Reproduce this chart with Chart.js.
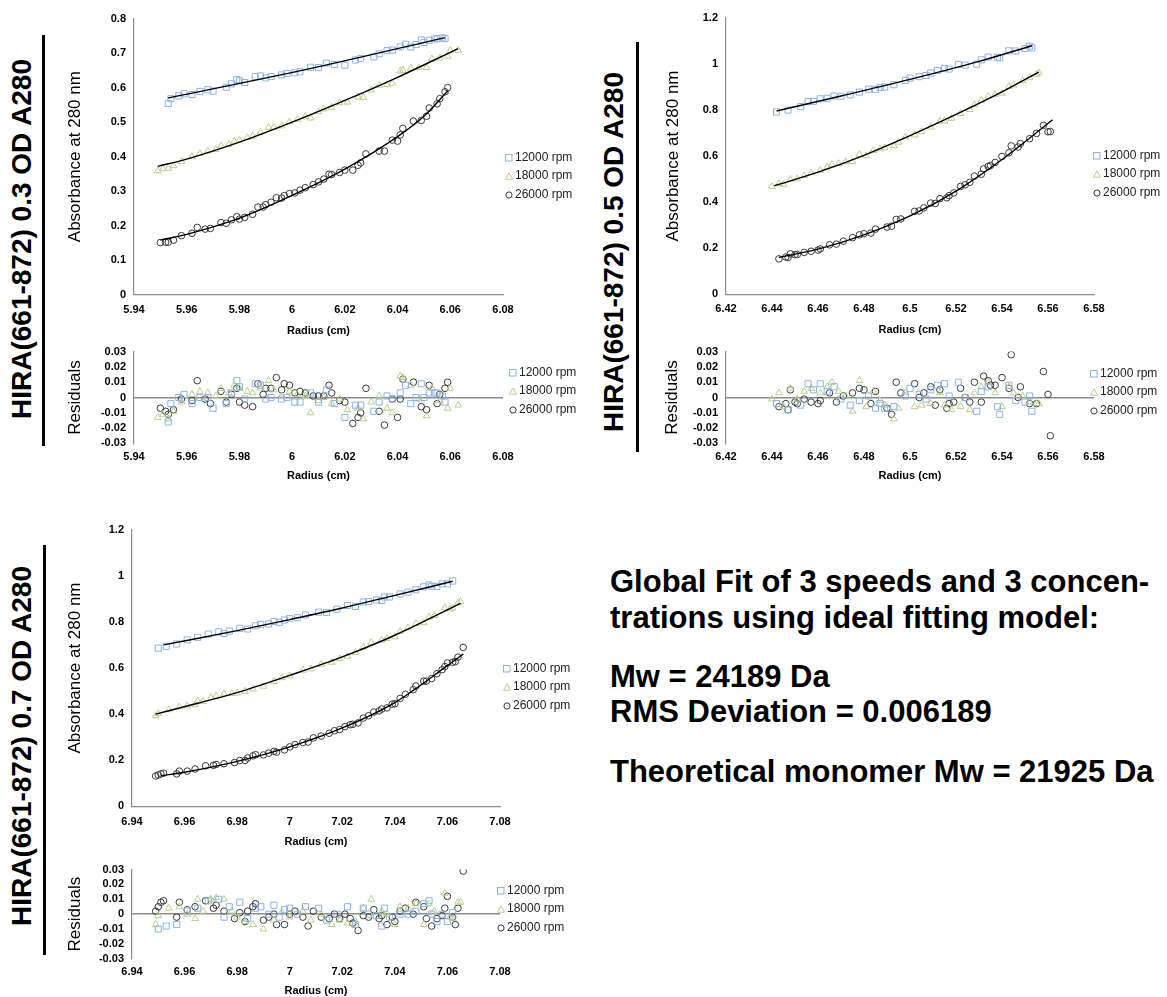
<!DOCTYPE html>
<html>
<head>
<meta charset="utf-8">
<title>HIRA(661-872) sedimentation equilibrium</title>
<script src="https://cdn.jsdelivr.net/npm/chart.js@4.4.1/dist/chart.umd.min.js"></script>
<style>
  body { margin: 0; width: 1167px; height: 997px; position: relative; overflow: hidden; background: #fff;
         font-family: "Liberation Sans", Arial, sans-serif; color: #000; }
  .plot { position: absolute; }
  .side { position: absolute; font-weight: bold; font-size: 28px; white-space: nowrap;
          transform: translate(-50%, -50%) rotate(-90deg); }
  .bar { position: absolute; width: 3px; background: #000; }
  .legend { position: absolute; font-size: 12px; line-height: 18.4px; color: #222; white-space: nowrap; }
  .legend svg { vertical-align: -1px; margin-right: 2px; }
  .note { position: absolute; left: 610px; font-weight: bold; font-size: 31px; line-height: 36px; white-space: nowrap; }
</style>
</head>
<body>

<div class="side" style="left:22px;top:239px">HIRA(661-872) 0.3 OD A280</div>
<div class="bar" style="left:42px;top:35px;height:411px"></div>
<div class="side" style="left:614px;top:252px">HIRA(661-872) 0.5 OD A280</div>
<div class="bar" style="left:636px;top:42px;height:410px"></div>
<div class="side" style="left:22px;top:746px">HIRA(661-872) 0.7 OD A280</div>
<div class="bar" style="left:43px;top:545px;height:410px"></div>

<div class="plot" id="boxA"><canvas id="chartA"></canvas></div>
<div class="plot" id="boxAr"><canvas id="chartAr"></canvas></div>
<div class="plot" id="boxB"><canvas id="chartB"></canvas></div>
<div class="plot" id="boxBr"><canvas id="chartBr"></canvas></div>
<div class="plot" id="boxC"><canvas id="chartC"></canvas></div>
<div class="plot" id="boxCr"><canvas id="chartCr"></canvas></div>

<div class="note" style="top:564px">Global Fit of 3 speeds and 3 concen-</div>
<div class="note" style="top:600px">trations using ideal fitting model:</div>
<div class="note" style="top:659px">Mw = 24189 Da</div>
<div class="note" style="top:694px">RMS Deviation = 0.006189</div>
<div class="note" style="top:754px">Theoretical monomer Mw = 21925 Da</div>

<script>
const speeds = ["12000 rpm", "18000 rpm", "26000 rpm"];

// 0.3 OD: radius (cm), absorbance, residual
const radA12 = [5.953,5.954,5.957,5.959,5.962,5.965,5.968,5.970,5.975,5.977,5.979,5.980,5.982,5.986,5.988,5.990,5.992,5.996,5.998,6.001,6.003,6.007,6.010,6.013,6.016,6.020,6.024,6.026,6.031,6.033,6.036,6.038,6.041,6.043,6.045,6.047,6.049,6.050,6.052,6.054,6.055,6.057,6.058];
const absA12 = [0.554,0.568,0.576,0.582,0.580,0.589,0.594,0.590,0.601,0.611,0.623,0.620,0.615,0.632,0.634,0.628,0.632,0.637,0.641,0.643,0.646,0.659,0.658,0.671,0.667,0.665,0.680,0.684,0.689,0.698,0.707,0.709,0.718,0.726,0.718,0.725,0.738,0.731,0.737,0.741,0.742,0.744,0.742];
const resA12 = [-0.016,-0.004,0.000,0.002,-0.004,0.000,0.000,-0.007,-0.004,0.003,0.011,0.007,-0.001,0.009,0.008,-0.001,0.000,-0.001,0.000,-0.003,-0.003,0.003,-0.003,0.005,-0.004,-0.013,-0.005,-0.005,-0.009,-0.003,0.001,-0.001,0.003,0.008,-0.004,0.000,0.009,0.000,0.003,0.003,0.003,0.001,-0.003];
const radA18 = [5.949,5.951,5.953,5.955,5.958,5.962,5.965,5.968,5.971,5.973,5.976,5.978,5.980,5.983,5.985,5.988,5.991,5.993,5.996,5.999,6.002,6.005,6.007,6.010,6.012,6.015,6.018,6.021,6.025,6.027,6.030,6.033,6.036,6.038,6.041,6.042,6.045,6.048,6.051,6.053,6.056,6.059,6.060,6.063];
const absA18 = [0.359,0.365,0.366,0.374,0.386,0.400,0.409,0.416,0.421,0.431,0.435,0.445,0.448,0.455,0.459,0.471,0.485,0.485,0.489,0.501,0.508,0.517,0.512,0.530,0.538,0.543,0.556,0.558,0.573,0.572,0.593,0.607,0.609,0.613,0.648,0.650,0.656,0.658,0.658,0.683,0.686,0.691,0.708,0.708];
const resA18 = [-0.013,-0.011,-0.014,-0.009,-0.003,0.002,0.004,0.003,0.001,0.006,0.003,0.008,0.006,0.004,0.003,0.006,0.011,0.005,0.001,0.004,0.002,0.001,-0.010,-0.002,0.000,-0.004,-0.001,-0.008,-0.007,-0.014,-0.003,0.001,-0.007,-0.010,0.014,0.013,0.008,-0.001,-0.012,0.006,-0.002,-0.007,0.006,-0.005];
const radA26 = [5.950,5.952,5.953,5.955,5.958,5.962,5.964,5.967,5.969,5.973,5.975,5.977,5.979,5.980,5.982,5.985,5.987,5.989,5.990,5.992,5.994,5.996,5.997,5.999,6.001,6.003,6.005,6.008,6.010,6.012,6.014,6.015,6.018,6.020,6.023,6.025,6.026,6.028,6.033,6.035,6.038,6.040,6.041,6.042,6.046,6.049,6.051,6.052,6.055,6.056,6.058,6.059];
const absA26 = [0.151,0.152,0.152,0.158,0.171,0.178,0.195,0.190,0.192,0.209,0.207,0.217,0.226,0.219,0.224,0.233,0.254,0.254,0.261,0.268,0.281,0.280,0.287,0.293,0.295,0.303,0.310,0.319,0.327,0.335,0.349,0.348,0.354,0.361,0.361,0.375,0.382,0.408,0.416,0.416,0.448,0.445,0.463,0.482,0.503,0.505,0.517,0.541,0.553,0.568,0.588,0.600];
const resA26 = [-0.007,-0.009,-0.011,-0.008,-0.001,-0.002,0.011,-0.001,-0.004,0.004,-0.003,0.002,0.006,-0.003,-0.005,-0.006,0.009,0.002,0.006,0.006,0.013,0.005,0.009,0.008,0.003,0.004,0.003,0.001,0.001,0.001,0.008,0.003,-0.002,-0.003,-0.017,-0.013,-0.010,0.006,-0.009,-0.018,-0.001,-0.013,-0.001,0.012,0.010,-0.006,-0.008,0.008,-0.004,0.002,0.006,0.010];
// global fit curves, 0.3 OD
const fitA12r = [5.953, 6.005, 6.058];
const fitA12a = [0.570, 0.652, 0.745];
const fitA18r = [5.949, 5.96, 5.98, 6.00, 6.02, 6.04, 6.063];
const fitA18a = [0.372, 0.393, 0.442, 0.500, 0.563, 0.630, 0.713];
const fitA26r = [5.950, 5.96, 5.98, 6.00, 6.02, 6.04, 6.05, 6.059];
const fitA26a = [0.158, 0.175, 0.222, 0.288, 0.364, 0.458, 0.517, 0.590];

// 0.5 OD
const radB12 = [6.442,6.447,6.4525,6.4557,6.458,6.461,6.464,6.467,6.470,6.474,6.478,6.482,6.485,6.487,6.489,6.493,6.498,6.500,6.504,6.507,6.509,6.512,6.515,6.517,6.521,6.524,6.529,6.531,6.534,6.538,6.539,6.543,6.546,6.550,6.552,6.553];
const absB12 = [0.791,0.799,0.814,0.836,0.837,0.848,0.850,0.860,0.859,0.865,0.877,0.890,0.889,0.897,0.899,0.909,0.928,0.938,0.944,0.949,0.960,0.971,0.980,0.977,0.997,0.994,0.998,1.017,1.029,1.028,1.026,1.056,1.055,1.066,1.076,1.069];
const resB12 = [-0.004,-0.008,-0.005,0.009,0.005,0.009,0.004,0.007,-0.001,-0.005,-0.002,0.001,-0.007,-0.004,-0.007,-0.006,0.001,0.006,0.002,-0.001,0.005,0.008,0.009,0.001,0.010,0.000,-0.009,0.004,0.007,-0.006,-0.011,0.008,-0.002,-0.003,0.001,-0.009];
const radB18 = [6.440,6.443,6.445,6.448,6.451,6.454,6.457,6.461,6.464,6.466,6.469,6.472,6.475,6.478,6.481,6.484,6.487,6.489,6.493,6.495,6.498,6.502,6.505,6.509,6.513,6.515,6.518,6.522,6.526,6.528,6.531,6.534,6.537,6.540,6.543,6.545,6.549,6.552,6.555,6.556];
const absB18 = [0.467,0.480,0.477,0.499,0.501,0.515,0.527,0.537,0.552,0.562,0.567,0.575,0.576,0.607,0.601,0.624,0.631,0.636,0.644,0.660,0.682,0.691,0.706,0.725,0.751,0.752,0.763,0.784,0.801,0.822,0.841,0.859,0.866,0.872,0.901,0.908,0.927,0.939,0.954,0.960];
const resB18 = [-0.001,0.003,-0.006,0.006,-0.001,0.004,0.006,0.003,0.007,0.010,0.004,0.001,-0.009,0.011,-0.006,0.004,-0.002,-0.005,-0.014,-0.007,0.003,-0.006,-0.005,-0.004,0.003,-0.005,-0.008,-0.006,-0.008,0.003,0.007,0.010,0.003,-0.006,0.007,0.003,0.001,-0.003,-0.004,-0.004];
const radB26 = [6.443,6.446,6.447,6.448,6.450,6.451,6.454,6.457,6.460,6.461,6.465,6.468,6.471,6.475,6.478,6.480,6.483,6.485,6.490,6.492,6.494,6.496,6.502,6.504,6.506,6.509,6.511,6.513,6.516,6.517,6.519,6.522,6.524,6.526,6.528,6.531,6.532,6.534,6.535,6.537,6.540,6.543,6.544,6.547,6.548,6.552,6.555,6.558,6.560,6.561];
const absB26 = [0.154,0.162,0.160,0.176,0.172,0.173,0.182,0.187,0.192,0.197,0.215,0.218,0.231,0.246,0.258,0.263,0.266,0.283,0.292,0.296,0.325,0.327,0.360,0.362,0.375,0.396,0.394,0.415,0.419,0.428,0.440,0.468,0.475,0.486,0.513,0.521,0.544,0.555,0.559,0.572,0.598,0.614,0.644,0.639,0.654,0.675,0.698,0.733,0.705,0.706];
const resB26 = [-0.006,-0.004,-0.008,0.005,-0.003,-0.004,-0.001,-0.003,-0.004,-0.002,0.003,-0.003,0.001,0.003,0.006,0.005,-0.004,0.004,-0.007,-0.011,0.010,0.003,0.009,0.000,0.003,0.007,-0.005,0.005,-0.007,-0.004,-0.003,0.006,0.000,-0.003,0.010,-0.003,0.014,0.011,0.008,0.008,0.013,0.006,0.028,0.000,0.007,-0.004,-0.004,0.017,0.002,-0.025];
const fitB12r = [6.442, 6.47, 6.50, 6.53, 6.553];
const fitB12a = [0.795, 0.860, 0.932, 1.010, 1.078];
const fitB18r = [6.441, 6.46, 6.48, 6.50, 6.52, 6.54, 6.556];
const fitB18a = [0.471, 0.530, 0.603, 0.688, 0.780, 0.878, 0.964];
const fitB26r = [6.443, 6.46, 6.48, 6.50, 6.52, 6.54, 6.562];
const fitB26a = [0.160, 0.196, 0.258, 0.340, 0.448, 0.585, 0.757];

// 0.7 OD
const radC12 = [6.950,6.953,6.957,6.961,6.965,6.969,6.973,6.975,6.977,6.981,6.984,6.987,6.989,6.992,6.994,6.996,6.998,7.000,7.003,7.006,7.011,7.014,7.018,7.022,7.025,7.028,7.030,7.033,7.035,7.036,7.038,7.042,7.045,7.048,7.051,7.053,7.054,7.056,7.058,7.060,7.062];
const absC12 = [0.686,0.694,0.704,0.722,0.733,0.747,0.757,0.749,0.760,0.772,0.769,0.783,0.789,0.791,0.802,0.798,0.808,0.814,0.818,0.830,0.842,0.841,0.855,0.871,0.867,0.886,0.888,0.895,0.893,0.908,0.908,0.921,0.929,0.939,0.952,0.960,0.954,0.954,0.965,0.965,0.977];
const resC12 = [-0.010,-0.008,-0.007,0.002,0.004,0.009,0.010,-0.002,0.005,0.008,-0.003,0.004,0.005,0.000,0.006,-0.002,0.003,0.004,0.000,0.005,0.004,-0.004,0.000,0.005,-0.007,0.004,0.000,-0.001,-0.008,0.004,-0.002,0.000,0.000,0.002,0.007,0.009,0.000,-0.005,0.000,-0.005,0.001];
const radC18 = [6.949,6.950,6.954,6.958,6.961,6.964,6.965,6.967,6.970,6.972,6.975,6.978,6.980,6.983,6.986,6.990,6.994,6.997,7.000,7.005,7.008,7.012,7.016,7.019,7.022,7.025,7.028,7.031,7.035,7.037,7.040,7.042,7.045,7.048,7.051,7.053,7.055,7.059,7.061,7.062,7.064,7.065];
const absC18 = [0.393,0.402,0.419,0.431,0.435,0.441,0.457,0.455,0.472,0.479,0.488,0.489,0.491,0.499,0.509,0.521,0.542,0.558,0.566,0.590,0.596,0.616,0.625,0.640,0.651,0.667,0.690,0.710,0.721,0.728,0.735,0.758,0.774,0.793,0.796,0.821,0.827,0.861,0.856,0.860,0.882,0.888];
const resC18 = [-0.007,-0.001,0.004,0.005,0.000,-0.003,0.010,0.002,0.010,0.011,0.010,0.002,-0.002,-0.005,-0.007,-0.010,-0.004,0.001,-0.002,0.002,-0.004,0.000,-0.007,-0.004,-0.006,-0.005,0.004,0.010,0.002,0.000,-0.007,0.005,0.004,0.007,-0.007,0.007,0.002,0.014,-0.002,-0.003,0.008,0.008];
const radC26 = [6.949,6.950,6.951,6.952,6.957,6.958,6.961,6.964,6.968,6.971,6.972,6.975,6.979,6.981,6.983,6.984,6.986,6.987,6.990,6.992,6.994,6.995,6.998,7.000,7.002,7.005,7.007,7.009,7.012,7.015,7.017,7.019,7.021,7.023,7.024,7.026,7.028,7.030,7.032,7.034,7.035,7.037,7.039,7.040,7.042,7.044,7.047,7.048,7.051,7.052,7.054,7.056,7.058,7.059,7.060,7.062,7.063,7.064,7.066];
const absC26 = [0.132,0.136,0.141,0.144,0.141,0.153,0.153,0.162,0.176,0.178,0.182,0.185,0.190,0.199,0.199,0.210,0.219,0.224,0.223,0.231,0.239,0.235,0.245,0.258,0.268,0.277,0.279,0.297,0.305,0.317,0.328,0.333,0.346,0.354,0.356,0.362,0.383,0.393,0.409,0.414,0.422,0.427,0.443,0.445,0.468,0.486,0.506,0.522,0.543,0.543,0.554,0.575,0.593,0.606,0.622,0.625,0.628,0.647,0.689];
const resC26 = [0.002,0.005,0.008,0.009,-0.002,0.008,0.003,0.005,0.009,0.004,0.006,0.002,-0.003,0.001,-0.005,0.002,0.005,0.007,-0.004,-0.002,0.000,-0.007,-0.007,0.000,0.002,-0.002,-0.008,0.002,-0.002,-0.003,0.000,-0.003,0.000,-0.003,-0.006,-0.011,-0.001,-0.002,0.003,-0.003,-0.001,-0.007,-0.002,-0.005,0.002,0.004,0.000,0.008,0.005,-0.003,-0.008,-0.003,-0.001,0.004,0.012,-0.002,-0.007,0.004,0.029];
const fitC12r = [6.952, 6.98, 7.00, 7.02, 7.04, 7.062];
const fitC12a = [0.700, 0.762, 0.810, 0.860, 0.915, 0.976];
const fitC18r = [6.949, 6.965, 6.98, 7.00, 7.02, 7.04, 7.065];
const fitC18a = [0.400, 0.447, 0.493, 0.568, 0.648, 0.742, 0.880];
const fitC26r = [6.951, 6.96, 6.98, 7.00, 7.02, 7.04, 7.06, 7.066];
const fitC26a = [0.133, 0.148, 0.195, 0.258, 0.340, 0.450, 0.610, 0.660];

// marker look per speed (hollow, Excel-like)
const markers = [
  { pointStyle: "rect", pointRadius: 4.3, borderColor: "#8db3e2" },
  { pointStyle: "triangle", pointRadius: 3.9, borderColor: "#b9cf8c" },
  { pointStyle: "circle", pointRadius: 3.3, borderColor: "#3a3a3a" },
];
const AXIS = "#8c8c8c";
const FONT = '"Liberation Sans", Arial, sans-serif';
const fmt = (v) => String(+Number(v).toFixed(3));

const pts = (xs, ys) => xs.map((x, i) => ({ x, y: ys[i] }));

function scatterSets(series) {
  return series.map(([xs, ys], i) => ({
    label: speeds[i],
    data: pts(xs, ys),
    ...markers[i],
    backgroundColor: "transparent",
    borderWidth: 1,
    pointBorderWidth: 1,
    showLine: false,
    order: 2,
  }));
}

function fitSets(series) {
  return series.map(([xs, ys]) => ({
    data: pts(xs, ys),
    showLine: true,
    pointRadius: 0,
    borderColor: "#000",
    borderWidth: 1.4,
    cubicInterpolationMode: "monotone",
    order: 1,
  }));
}

// area = [left, top, right, bottom] of the plotting region on the page
function drawChart(id, area, opt) {
  const wy = 80, pt = 12, pr = 26;
  const box = document.getElementById("box" + id);
  const canvas = document.getElementById("chart" + id);
  const w = area[2] - area[0] + wy + pr;
  const h = Math.round(area[3] - area[1] + pt + opt.hx);
  box.style.left = area[0] - wy + "px";
  box.style.top = area[1] - pt + "px";
  canvas.width = w;
  canvas.height = h;
  canvas.style.width = w + "px";
  canvas.style.height = h + "px";

  const resid = !!opt.resid;
  const tickFont = { family: FONT, size: 11, weight: "bold" };

  new Chart(canvas, {
    type: "scatter",
    data: { datasets: opt.datasets },
    options: {
      responsive: false,
      animation: false,
      events: [],
      layout: { padding: { top: pt, right: pr, bottom: 0, left: 0 } },
      plugins: { legend: { display: false }, tooltip: { enabled: false } },
      scales: {
        x: {
          type: "linear",
          min: opt.xr[0],
          max: opt.xr[1],
          ticks: { stepSize: 0.02, autoSkip: false, maxRotation: 0, padding: opt.xPad, font: tickFont, color: "#000", callback: fmt },
          grid: { display: false, drawTicks: false },
          border: { display: !resid, color: AXIS, width: 1.2 },
          title: { display: true, text: "Radius (cm)", font: { family: FONT, size: 11, weight: "bold" }, color: "#000", padding: 0 },
          afterFit: (s) => { s.height = opt.hx; },
        },
        y: {
          min: opt.yr[0],
          max: opt.yr[1],
          ticks: { stepSize: opt.yStep, autoSkip: false, padding: 8, font: tickFont, color: "#000", callback: fmt },
          grid: resid
            ? { drawTicks: false, lineWidth: 1.4, color: (c) => (Math.abs(c.tick.value) < 1e-9 ? AXIS : "transparent") }
            : { display: false, drawTicks: false },
          border: { color: AXIS, width: 1.2 },
          title: {
            display: true,
            text: resid ? "Residuals" : "Absorbance at 280 nm",
            font: { family: FONT, size: 17 },
            color: "#000",
            padding: { top: opt.titleX - (area[0] - wy) - 10.2, bottom: 0 },
          },
          afterFit: (s) => { s.width = wy; },
        },
      },
    },
  });
}

const mainA = [[radA12, absA12], [radA18, absA18], [radA26, absA26]];
const fitA = [[fitA12r, fitA12a], [fitA18r, fitA18a], [fitA26r, fitA26a]];
const residA = [[radA12, resA12], [radA18, resA18], [radA26, resA26]];
const mainB = [[radB12, absB12], [radB18, absB18], [radB26, absB26]];
const fitB = [[fitB12r, fitB12a], [fitB18r, fitB18a], [fitB26r, fitB26a]];
const residB = [[radB12, resB12], [radB18, resB18], [radB26, resB26]];
const mainC = [[radC12, absC12], [radC18, absC18], [radC26, absC26]];
const fitC = [[fitC12r, fitC12a], [fitC18r, fitC18a], [fitC26r, fitC26a]];
const residC = [[radC12, resC12], [radC18, resC18], [radC26, resC26]];

const residY = { yr: [-0.03, 0.03], yStep: 0.01, resid: true };

drawChart("A", [134, 16, 503, 295], { xr: [5.94, 6.08], yr: [0, 0.8], yStep: 0.1, hx: 43.3, xPad: 9, titleX: 75,
  datasets: [...fitSets(fitA), ...scatterSets(mainA)] });
drawChart("Ar", [134, 349, 503, 443], { xr: [5.94, 6.08], ...residY, hx: 39.6, xPad: 7, titleX: 75,
  datasets: scatterSets(residA) });
drawChart("B", [726, 15, 1094, 294], { xr: [6.42, 6.58], yr: [0, 1.2], yStep: 0.2, hx: 42.6, xPad: 8, titleX: 673,
  datasets: [...fitSets(fitB), ...scatterSets(mainB)] });
drawChart("Br", [726, 349, 1094, 443], { xr: [6.42, 6.58], ...residY, hx: 39.6, xPad: 7, titleX: 672,
  datasets: scatterSets(residB) });
drawChart("C", [132, 527, 500, 806], { xr: [6.94, 7.08], yr: [0, 1.2], yStep: 0.2, hx: 42.6, xPad: 9, titleX: 75,
  datasets: [...fitSets(fitC), ...scatterSets(mainC)] });
drawChart("Cr", [132, 867, 500, 959], { xr: [6.94, 7.08], ...residY, hx: 39.3, xPad: 6.5, titleX: 75,
  datasets: scatterSets(residC) });

// legends: marker glyph + speed label, placed beside each plot
const legendIcons = [
  '<svg width="8" height="8"><rect x="0.5" y="0.5" width="6.5" height="6.5" fill="none" stroke="' + markers[0].borderColor + '"/></svg>',
  '<svg width="8" height="8"><polygon points="4,0.8 7.5,7.2 0.5,7.2" fill="none" stroke="' + markers[1].borderColor + '"/></svg>',
  '<svg width="8" height="8"><circle cx="4" cy="4" r="3.1" fill="none" stroke="' + markers[2].borderColor + '"/></svg>',
];
function addLegend(x, yFirst) {
  const el = document.createElement("div");
  el.className = "legend";
  el.style.left = x - 4 + "px";
  el.style.top = yFirst - 9.2 + "px";
  el.innerHTML = speeds.map((s, i) => legendIcons[i] + s).join("<br>");
  document.body.appendChild(el);
}
addLegend(509, 157);
addLegend(513, 372);
addLegend(1097, 155);
addLegend(1094, 373);
addLegend(507, 668);
addLegend(501, 890);
</script>
</body>
</html>
